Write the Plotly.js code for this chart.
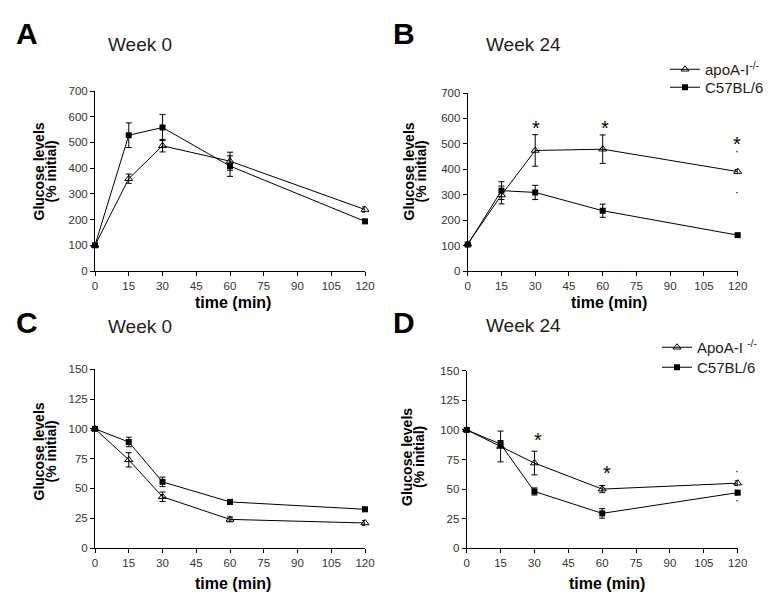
<!DOCTYPE html>
<html>
<head>
<meta charset="utf-8">
<script src="https://cdn.plot.ly/plotly-3.0.1.min.js"></script>
<style>
  html, body { margin: 0; padding: 0; background: #fff; }
  #chart { width: 780px; height: 605px; }
</style>
</head>
<body>
<div id="chart"></div>
<script>
/* glucose / insulin tolerance curves, 4 panels */

const TIME = [0, 15, 30, 60, 120];
const X_TICKS = [0, 15, 30, 45, 60, 75, 90, 105, 120];

// panel A - week 0 (% initial)
const A_KO = [100, 359, 487, 427, 239];
const A_KO_ERR = [5, 18, 24, 35, 10];
const A_WT = [100, 528, 558, 408, 193];
const A_WT_ERR = [5, 48, 51, 40, 8];

// panel B - week 24
const B_KO = [106, 299, 474, 479, 391];
const B_KO_ERR = [5, 35, 62, 56, 8];
const B_WT = [104, 316, 309, 237, 141];
const B_WT_ERR = [5, 35, 28, 26, 5];

// panel C - week 0
const C_KO = [100, 74, 43, 24, 21];
const C_KO_ERR = [1, 6, 4, 2, 2];
const C_WT = [100, 89, 55.5, 38.7, 32.5];
const C_WT_ERR = [1, 4, 4, 2, 2];

// panel D - week 24
const D_KO = [100, 86, 72, 50, 55];
const D_KO_ERR = [1, 13, 10, 3, 2];
const D_WT = [100, 88, 48, 29.5, 47];
const D_WT_ERR = [1, 3, 3, 4, 2];

// significance stars [x, y]
const B_STARS = [[30.2, 584], [61, 584], [119.6, 518]];
const D_STARS = [[31.7, 95.7], [62, 67.5]];
const B_DOTS = [[119.6, 470], [119.6, 312]];
const D_DOTS = [[119.6, 65], [119.6, 41]];

const FONT = "Arial, 'Liberation Sans', sans-serif";
const W = 780, H = 605;
const px = x => x / W;
const py = y => 1 - y / H;

function series(y, err, ko, xa, ya, name, legend, showlegend) {
  return {
    x: TIME, y: y,
    xaxis: xa, yaxis: ya,
    type: 'scatter',
    mode: 'lines+markers',
    name: name,
    legend: legend,
    showlegend: showlegend,
    cliponaxis: false,
    line: { color: '#000', width: 1 },
    marker: ko
      ? { symbol: 'triangle-up-open', size: 7, color: '#000', line: { width: 1, color: '#000' } }
      : { symbol: 'square', size: 6, color: '#000' },
    error_y: { type: 'data', array: err, visible: true, color: '#000', thickness: 1, width: 3 }
  };
}

const traces = [
  series(A_KO, A_KO_ERR, true, 'x', 'y', 'apoA-I<sup>-/-</sup>', 'legend', false),
  series(A_WT, A_WT_ERR, false, 'x', 'y', 'C57BL/6', 'legend2', false),
  series(B_KO, B_KO_ERR, true, 'x2', 'y2', 'apoA-I<sup>-/-</sup>', 'legend', true),
  series(B_WT, B_WT_ERR, false, 'x2', 'y2', 'C57BL/6', 'legend2', true),
  series(C_KO, C_KO_ERR, true, 'x3', 'y3', 'ApoA-I <sup>-/-</sup>', 'legend3', false),
  series(C_WT, C_WT_ERR, false, 'x3', 'y3', 'C57BL/6', 'legend4', false),
  series(D_KO, D_KO_ERR, true, 'x4', 'y4', 'ApoA-I <sup>-/-</sup>', 'legend3', true),
  series(D_WT, D_WT_ERR, false, 'x4', 'y4', 'C57BL/6', 'legend4', true)
];

function xaxis(domain, anchor) {
  return {
    domain: domain, anchor: anchor,
    range: [0, 120], tickvals: X_TICKS,
    showline: true, linecolor: '#000', linewidth: 1,
    ticks: 'outside', ticklen: 4, tickcolor: '#000',
    showgrid: false, zeroline: false,
    tickfont: { family: FONT, size: 11.5, color: '#333' }
  };
}
function yaxis(domain, anchor, max, dtick) {
  return {
    domain: domain, anchor: anchor,
    range: [0, max], dtick: dtick,
    showline: true, linecolor: '#000', linewidth: 1,
    ticks: 'outside', ticklen: 4, tickcolor: '#000',
    showgrid: false, zeroline: false,
    tickfont: { family: FONT, size: 11.5, color: '#333' }
  };
}

const annotations = [];
function txt(x, y, text, size, bold, color) {
  annotations.push({
    xref: 'paper', yref: 'paper', x: px(x), y: py(y),
    xanchor: 'center', yanchor: 'middle', showarrow: false,
    text: bold ? '<b>' + text + '</b>' : text,
    font: { family: FONT, size: size, color: color || '#000' }
  });
}
function ytitle(x1, x2, y) {
  [[x1, 'Glucose levels'], [x2, '(% initial)']].forEach(([x, t]) => {
    annotations.push({
      xref: 'paper', yref: 'paper', x: px(x), y: py(y),
      xanchor: 'center', yanchor: 'middle', showarrow: false, textangle: -90,
      text: '<b>' + t + '</b>',
      font: { family: FONT, size: 14, color: '#000' }
    });
  });
}
function stars(list, xr, yr, text, size) {
  list.forEach(([x, y]) => annotations.push({
    xref: xr, yref: yr, x: x, y: y, showarrow: false,
    xanchor: 'center', yanchor: 'middle', yshift: text === '*' ? -5 : 0,
    text: text, font: { family: FONT, size: size, color: '#000' }
  }));
}

// panel letters and headings
txt(27, 33, 'A', 30, true);
txt(404, 33, 'B', 30, true);
txt(27, 322, 'C', 30, true);
txt(404, 322, 'D', 30, true);
txt(140, 44, 'Week 0', 19, false, '#222');
txt(523, 44, 'Week 24', 19, false, '#222');
txt(140, 326, 'Week 0', 19, false, '#222');
txt(523, 325, 'Week 24', 19, false, '#222');

// axis titles
ytitle(38.5, 50.5, 172);
ytitle(408.5, 420.5, 172);
ytitle(38.5, 50.5, 452);
ytitle(407, 419, 457);
txt(233, 302, 'time (min)', 16, true);
txt(609, 302, 'time (min)', 16, true);
txt(233, 583, 'time (min)', 16, true);
txt(607, 583, 'time (min)', 16, true);

stars(B_STARS, 'x2', 'y2', '*', 20);
stars(D_STARS, 'x4', 'y4', '*', 20);
stars(B_DOTS, 'x2', 'y2', '·', 12);
stars(D_DOTS, 'x4', 'y4', '·', 12);

function legendAt(x, y) {
  return {
    x: px(x), y: py(y),
    font: { family: FONT, size: 15, color: '#222' },
    bgcolor: 'rgba(0,0,0,0)',
    xanchor: 'left', yanchor: 'top',
    itemwidth: 30
  };
}

const layout = {
  width: W, height: H,
  margin: { l: 0, r: 0, t: 0, b: 0 },
  paper_bgcolor: '#fff', plot_bgcolor: '#fff',
  font: { family: FONT },
  xaxis: xaxis([px(95), px(365)], 'y'),
  yaxis: yaxis([py(271), py(91)], 'x', 700, 100),
  xaxis2: xaxis([px(467.7), px(737.7)], 'y2'),
  yaxis2: yaxis([py(271), py(93)], 'x2', 700, 100),
  xaxis3: xaxis([px(95), px(365)], 'y3'),
  yaxis3: yaxis([py(548), py(369.3)], 'x3', 150, 25),
  xaxis4: xaxis([px(466.7), px(737.7)], 'y4'),
  yaxis4: yaxis([py(548.3), py(370.7)], 'x4', 150, 25),
  legend: legendAt(665, 53),
  legend2: legendAt(665, 71),
  legend3: legendAt(657, 331),
  legend4: legendAt(657, 351),
  annotations: annotations
};

Plotly.newPlot('chart', traces, layout, { staticPlot: true, displayModeBar: false });
</script>
</body>
</html>
